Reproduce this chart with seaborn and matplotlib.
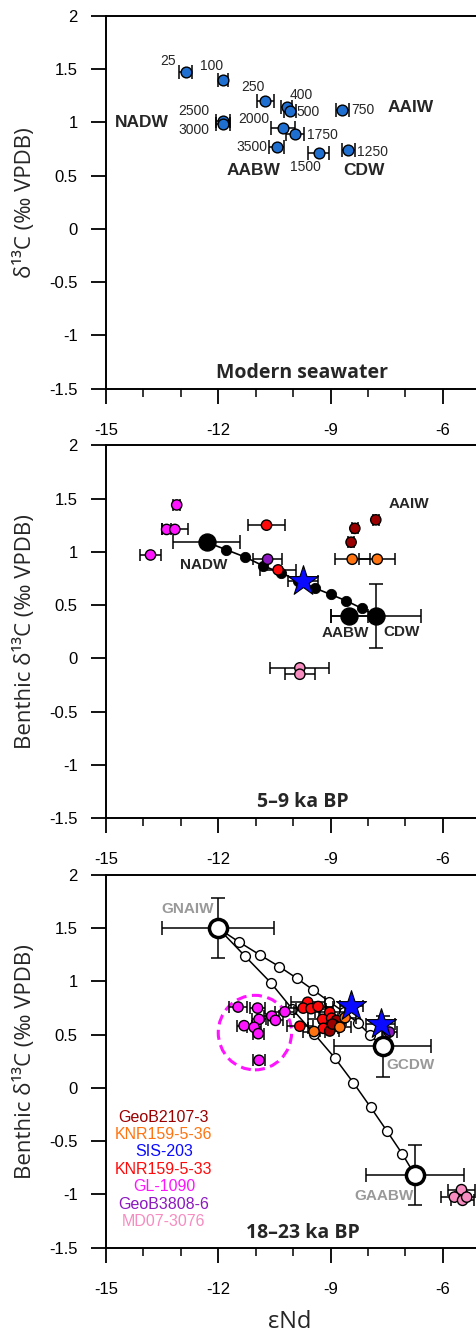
import numpy as np
import pandas as pd
import matplotlib
matplotlib.use("Agg")
import matplotlib.pyplot as plt
import seaborn as sns
from matplotlib.patches import Ellipse
from matplotlib.ticker import MultipleLocator, FuncFormatter

# ====== Modern seawater (top panel) ======
modern_depth = ["25", "100", "250", "400", "500", "750", "2500", "3000",
                "2000", "1750", "3500", "1500", "1250"]
modern_end = [-12.87, -11.87, -10.74, -10.17, -10.08, -8.68, -11.88, -11.88,
              -10.27, -9.95, -10.44, -9.31, -8.52]
modern_d13c = [1.47, 1.40, 1.20, 1.15, 1.11, 1.12, 1.01, 0.99,
               0.95, 0.89, 0.77, 0.71, 0.74]
modern_err = [0.18, 0.14, 0.22, 0.15, 0.15, 0.18, 0.19, 0.19,
              0.32, 0.23, 0.20, 0.28, 0.17]
modern_masses = ["NADW", "AAIW", "AABW", "CDW"]

# ====== 5-9 ka BP (middle panel) ======
holo_core = ["GL-1090", "GL-1090", "GL-1090", "GL-1090",
             "KNR159-5-33", "KNR159-5-33", "GeoB3808-6", "SIS-203",
             "GeoB2107-3", "GeoB2107-3", "GeoB2107-3",
             "KNR159-5-36", "KNR159-5-36", "MD07-3076", "MD07-3076"]
holo_end = [-13.11, -13.38, -13.16, -13.81, -10.71, -10.40, -10.68, -9.73,
            -7.79, -8.35, -8.45, -8.42, -7.75, -9.82, -9.82]
holo_d13c = [1.44, 1.21, 1.21, 0.97, 1.25, 0.83, 0.93, 0.73,
             1.30, 1.22, 1.09, 0.93, 0.93, -0.09, -0.15]
holo_err = [0.10, 0.12, 0.34, 0.29, 0.50, 0.49, 0.39, 0.40,
            0.08, 0.08, 0.08, 0.47, 0.48, 0.79, 0.40]

holo_em_name = ["NADW", "AABW", "CDW"]
holo_em_end = [-12.31, -8.50, -7.79]
holo_em_d13c = [1.09, 0.40, 0.40]
holo_em_xerr = [0.89, 0.50, 1.20]
holo_em_yerr = [0.0, 0.0, 0.30]
holo_mix_end = [-12.31, -11.79, -11.28, -10.81, -10.31, -9.87, -9.42, -9.00,
                -8.58, -8.17, -7.79]
holo_mix_d13c = [1.09, 1.02, 0.95, 0.87, 0.80, 0.73, 0.66, 0.60,
                 0.54, 0.47, 0.40]

# ====== 18-23 ka BP (bottom panel) ======
lgm_core = (["GL-1090"] * 10 + ["KNR159-5-33"] * 9 + ["GeoB2107-3"] * 4
            + ["KNR159-5-36"] * 3 + ["SIS-203"] * 2 + ["GeoB3808-6"]
            + ["MD07-3076"] * 4)
lgm_end = [-11.47, -10.95, -10.91, -11.31, -11.04, -10.93, -10.57, -10.47, -10.22, -10.91,
           -9.61, -9.73, -9.52, -9.33, -9.82, -9.02, -9.21, -8.97, -9.19,
           -8.84, -8.90, -9.02, -8.95,
           -9.44, -8.61, -8.75,
           -8.44, -7.66,
           -7.43,
           -5.50, -5.69, -5.47, -5.36]
lgm_d13c = [0.76, 0.75, 0.645, 0.585, 0.57, 0.51, 0.675, 0.635, 0.715, 0.26,
            0.805, 0.75, 0.745, 0.765, 0.58, 0.71, 0.645, 0.655, 0.56,
            0.635, 0.59, 0.535, 0.60,
            0.53, 0.66, 0.57,
            0.77, 0.605,
            0.525,
            -0.955, -1.025, -1.055, -1.025]
lgm_err = [0.25, 0.20, 0.18, 0.20, 0.18, 0.15, 0.20, 0.20, 0.25, 0.16,
           0.45, 0.45, 0.40, 0.40, 0.35, 0.40, 0.40, 0.35, 0.40,
           0.25, 0.25, 0.25, 0.25,
           0.30, 0.30, 0.30,
           0.30, 0.38,
           0.20,
           0.35, 0.35, 0.30, 0.30]

lgm_em_name = ["GNAIW", "GCDW", "GAABW"]
lgm_em_end = [-12.0, -7.61, -6.74]
lgm_em_d13c = [1.50, 0.39, -0.82]
lgm_em_xerr = [1.5, 1.3, 1.3]
lgm_em_yerr = [0.28, 0.29, 0.28]
mix_cdw_end = [-12.0, -11.44, -10.89, -10.37, -9.90, -9.46, -9.03, -8.63,
               -8.26, -7.95, -7.61]
mix_cdw_d13c = [1.50, 1.37, 1.25, 1.14, 1.03, 0.92, 0.81, 0.71,
                0.61, 0.50, 0.39]
mix_aabw_end = [-12.0, -11.29, -10.60, -10.02, -9.44, -8.88, -8.39, -7.93,
                -7.50, -7.08, -6.74]
mix_aabw_d13c = [1.50, 1.24, 0.99, 0.74, 0.51, 0.28, 0.05, -0.18,
                 -0.40, -0.62, -0.82]

core_names = ["GeoB2107-3", "KNR159-5-36", "SIS-203", "KNR159-5-33",
              "GL-1090", "GeoB3808-6", "MD07-3076"]
core_colors = {"GeoB2107-3": "#9a0000", "KNR159-5-36": "#ff7410",
               "SIS-203": "#0a0aff", "KNR159-5-33": "#ff0a0a",
               "GL-1090": "#ff14ff", "GeoB3808-6": "#8c18c0",
               "MD07-3076": "#f68cc0"}

# ====== Style ======
sns.set_style("ticks")
plt.rcParams["font.family"] = ["Liberation Sans", "DejaVu Sans"]
plt.rcParams["axes.unicode_minus"] = False
label_font = ["Open Sans", "DejaVu Sans"]

fig = plt.figure(figsize=(4.76, 13.32), dpi=100)
W, H = 476.0, 1332.0
ax_w = 449.0
ax_h = 372.7
left = 106 / W
ax1 = fig.add_axes([left, 1 - 388.7 / H, ax_w / W, ax_h / H])
ax2 = fig.add_axes([left, 1 - 818.0 / H, ax_w / W, ax_h / H])
ax3 = fig.add_axes([left, 1 - 1247.7 / H, ax_w / W, ax_h / H])


def style_axis(ax, ylabel):
    ax.set_xlim(-15, -3)
    ax.set_ylim(-1.5, 2)
    ax.xaxis.set_major_locator(MultipleLocator(3))
    ax.xaxis.set_minor_locator(MultipleLocator(1))
    ax.yaxis.set_major_locator(MultipleLocator(0.5))
    ax.yaxis.set_major_formatter(FuncFormatter(lambda v, p: f"{v:g}"))
    # the panel is cut at the right edge, so the -3 label is never shown
    ax.xaxis.set_major_formatter(FuncFormatter(lambda v, p: f"{v:g}" if v < -5 else ""))
    ax.tick_params(axis="both", which="major", length=10.5, width=1.3,
                   labelsize=12, colors="black")
    ax.tick_params(axis="y", pad=10)
    ax.tick_params(axis="x", pad=14)
    ax.tick_params(axis="x", which="minor", length=5.8, width=1.3)
    for s in ["left", "bottom", "top"]:
        ax.spines[s].set_linewidth(1.4)
        ax.spines[s].set_color("black")
    ax.spines["right"].set_visible(False)
    ax.set_xlabel("")
    ax.set_ylabel(ylabel, fontsize=16, family=label_font)
    ax.yaxis.label.set_va("center")
    ax.yaxis.set_label_coords(-81 / ax_w, 0.5)


def xbars(ax, x, y, xerr, yerr=None, cap=4, z=2):
    ax.errorbar(x, y, xerr=xerr, yerr=yerr, fmt="none", ecolor="black",
                elinewidth=1.1, capsize=cap, capthick=1.1, zorder=z)


# ====== Panel 1: modern seawater ======
xbars(ax1, modern_end, modern_d13c, modern_err, cap=5)
sns.scatterplot(x=modern_end, y=modern_d13c, color="#1f6fd0", edgecolor="black",
                linewidth=1, s=60, zorder=3, ax=ax1)
depth_offsets = [(-12.7, 7.9), (-8.4, 10.3), (-9.1, 10.1), (10.8, 8.6),
                 (12.7, -0.7), (14.6, 0), (-20.7, 7.5), (-20.7, -4.5),
                 (-20.9, 6.3), (19.9, -0.5), (-18, 0), (-9.6, -9.9), (17.3, -1.2)]
for lab, x, y, off in zip(modern_depth, modern_end, modern_d13c, depth_offsets):
    ax1.annotate(lab, (x, y), xytext=off, textcoords="offset points",
                 ha="center", va="center", fontsize=10)
for name, (x, y) in zip(modern_masses, [(-14.03, 1.0), (-6.85, 1.14),
                                         (-11.05, 0.545), (-8.10, 0.545)]):
    ax1.text(x, y, name, ha="center", va="center", fontsize=12.5, weight="bold")
ax1.text(-9.75, -1.35, "Modern seawater", ha="center", va="center",
         fontsize=14, weight="bold", family=label_font)
style_axis(ax1, "δ¹³C (‰ VPDB)")

# ====== Panel 2: 5-9 ka BP ======
holo = pd.DataFrame({"core": holo_core, "end": holo_end, "d13c": holo_d13c,
                     "err": holo_err})
sns.lineplot(x=holo_mix_end, y=holo_mix_d13c, sort=False, color="black",
             lw=1.2, zorder=2, ax=ax2)
sns.scatterplot(x=holo_mix_end[1:-1], y=holo_mix_d13c[1:-1], color="black",
                edgecolor="black", s=55, zorder=3, ax=ax2)
xbars(ax2, holo_em_end, holo_em_d13c, holo_em_xerr, holo_em_yerr, cap=5)
sns.scatterplot(x=holo_em_end, y=holo_em_d13c, color="black", edgecolor="black",
                s=150, zorder=4, ax=ax2)
xbars(ax2, holo["end"], holo["d13c"], holo["err"], z=4)
dots = holo[holo["core"] != "SIS-203"]
sns.scatterplot(data=dots, x="end", y="d13c", hue="core", palette=core_colors,
                edgecolor="black", linewidth=1, s=55, zorder=5, legend=False, ax=ax2)
stars = holo[holo["core"] == "SIS-203"]
sns.scatterplot(data=stars, x="end", y="d13c", color=core_colors["SIS-203"],
                marker="*", edgecolor="black", linewidth=0.8, s=520, zorder=6, ax=ax2)
for name, (x, y) in zip(["NADW", "AAIW", "AABW", "CDW"],
                        [(-12.40, 0.88), (-6.90, 1.45), (-8.61, 0.235), (-7.10, 0.25)]):
    ax2.text(x, y, name, ha="center", va="center", fontsize=11, weight="bold")
ax2.text(-9.75, -1.35, "5–9 ka BP", ha="center", va="center",
         fontsize=14, weight="bold", family=label_font)
style_axis(ax2, "Benthic δ¹³C (‰ VPDB)")

# ====== Panel 3: 18-23 ka BP ======
lgm = pd.DataFrame({"core": lgm_core, "end": lgm_end, "d13c": lgm_d13c,
                    "err": lgm_err})
for mx, my in [(mix_cdw_end, mix_cdw_d13c), (mix_aabw_end, mix_aabw_d13c)]:
    sns.lineplot(x=mx, y=my, sort=False, color="black", lw=1.1, zorder=2, ax=ax3)
    sns.scatterplot(x=mx[1:-1], y=my[1:-1], color="white", edgecolor="black",
                    linewidth=1, s=50, zorder=3, ax=ax3)
xbars(ax3, lgm_em_end, lgm_em_d13c, lgm_em_xerr, lgm_em_yerr, cap=5)
sns.scatterplot(x=lgm_em_end, y=lgm_em_d13c, color="white", edgecolor="black",
                linewidth=2.5, s=170, zorder=4, ax=ax3)
ax3.add_patch(Ellipse((-11.02, 0.52), width=1.96, height=0.70, fill=False,
                      edgecolor="#ff14ff", lw=2.2, ls=(0, (3.3, 1.8)), zorder=2))
xbars(ax3, lgm["end"], lgm["d13c"], lgm["err"], z=4)
dots = lgm[lgm["core"] != "SIS-203"]
sns.scatterplot(data=dots, x="end", y="d13c", hue="core", palette=core_colors,
                edgecolor="black", linewidth=1, s=55, zorder=5, legend=False, ax=ax3)
stars = lgm[lgm["core"] == "SIS-203"]
sns.scatterplot(data=stars, x="end", y="d13c", color=core_colors["SIS-203"],
                marker="*", edgecolor="black", linewidth=0.8, s=520, zorder=6, ax=ax3)
for name, (x, y) in zip(lgm_em_name, [(-12.82, 1.68), (-6.85, 0.215), (-7.56, -1.01)]):
    ax3.text(x, y, name, ha="center", va="center", fontsize=11, weight="bold",
             color="#999999")
for i, name in enumerate(core_names):
    ax3.text(-13.45, -0.275 - 0.163 * i, name, ha="center", va="center",
             fontsize=11.5, color=core_colors[name])
ax3.text(-9.75, -1.36, "18–23 ka BP", ha="center", va="center",
         fontsize=14, weight="bold", family=label_font)
style_axis(ax3, "Benthic δ¹³C (‰ VPDB)")
ax3.set_xlabel("εNd", fontsize=17, family=label_font)
ax3.xaxis.label.set_va("center")
ax3.xaxis.set_label_coords(184 / ax_w, -74 / ax_h)

fig.savefig("out.png", dpi=100)
